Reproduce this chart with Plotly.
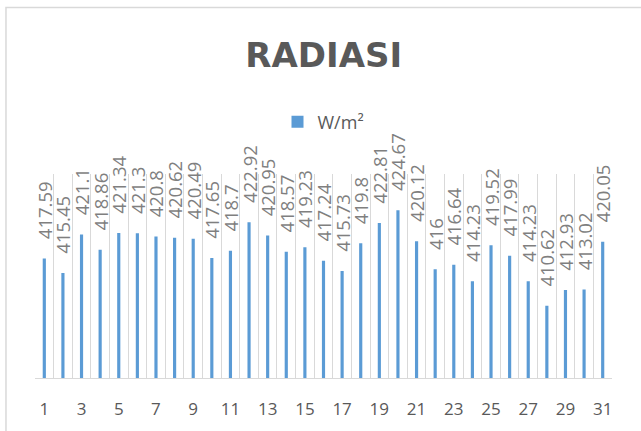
import plotly.graph_objects as go

days = list(range(1, 32))
radiasi = [417.59, 415.45, 421.1, 418.86, 421.34, 421.3, 420.8, 420.62, 420.49, 417.65,
           418.7, 422.92, 420.95, 418.57, 419.23, 417.24, 415.73, 419.8, 422.81, 424.67,
           420.12, 416, 416.64, 414.23, 419.52, 417.99, 414.23, 410.62, 412.93, 413.02, 420.05]
tick_days = days[::2]
tick_labels = [str(d) for d in tick_days]

BLUE = "#5b9bd5"
GRID = "#d9d9d9"
FONT = "Open Sans"

fig = go.Figure()
fig.add_trace(go.Bar(
    x=days, y=radiasi, name="W/m²",
    marker=dict(color=BLUE, line=dict(width=0)),
    width=0.17,
    texttemplate="\u00a0\u00a0\u00a0\u00a0%{y}",
    textposition="outside",
    textangle=-90,
    constraintext="none",
    cliponaxis=False,
    textfont=dict(family=FONT, size=18.5, color="#7f7f7f"),
))

fig.update_layout(
    width=641, height=431,
    margin=dict(l=35, r=29, t=174, b=53),
    paper_bgcolor="white", plot_bgcolor="white",
    title=dict(text="<b>RADIASI</b>", x=0.505, xanchor="center", y=0.872, yanchor="middle",
               font=dict(family="DejaVu Sans", size=34, color="#595959")),
    showlegend=True,
    legend=dict(orientation="h", x=0.5, xanchor="center", y=1.255, yanchor="middle",
                font=dict(family=FONT, size=18, color="#595959"), bgcolor="rgba(0,0,0,0)"),
    xaxis=dict(range=[0.5, 31.5], tickmode="array", tickvals=tick_days, ticktext=tick_labels,
               showgrid=False, zeroline=False, showline=True, linecolor=GRID, linewidth=1,
               ticks="", ticklabelstandoff=16, automargin=False,
               tickfont=dict(family=FONT, size=17, color="#595959"),
               minor=dict(tick0=0.5, dtick=1, showgrid=True, gridcolor=GRID, gridwidth=1, ticks="")),
    yaxis=dict(range=[400, 430], visible=False, showgrid=False, zeroline=False, automargin=False),
    shapes=[dict(type="rect", xref="paper", yref="paper",
                 x0=-0.0503, x1=1.06, y0=-0.3, y1=1.816,
                 line=dict(color=GRID, width=1.5), fillcolor="rgba(0,0,0,0)", layer="below")],
)

fig.write_html("out.html", config={"displayModeBar": False},
               post_script="document.body.style.margin='0';")
